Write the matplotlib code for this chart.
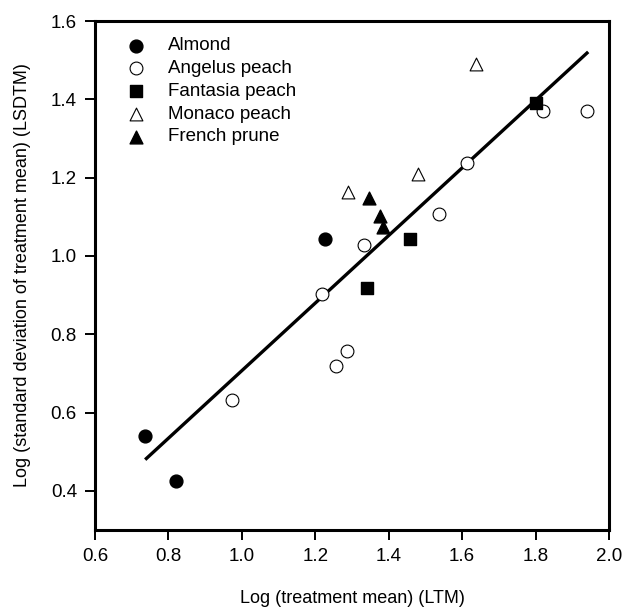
import matplotlib.pyplot as plt
import numpy as np

plt.rcParams["font.family"] = ["Liberation Sans", "DejaVu Sans"]

# log(treatment mean), log(sd of treatment mean) per cultivar
almond_x = [0.736, 0.820, 1.226]
almond_y = [0.540, 0.426, 1.042]
angelus_x = [0.973, 1.218, 1.256, 1.286, 1.332, 1.536, 1.612, 1.819, 1.939]
angelus_y = [0.632, 0.902, 0.718, 0.757, 1.027, 1.108, 1.238, 1.371, 1.371]
fantasia_x = [1.340, 1.457, 1.800]
fantasia_y = [0.917, 1.042, 1.391]
monaco_x = [1.288, 1.479, 1.639]
monaco_y = [1.164, 1.208, 1.490]
prune_x = [1.346, 1.376, 1.384]
prune_y = [1.149, 1.101, 1.075]

# regression line LSDTM = a + b * LTM
fit_slope = 0.863
fit_intercept = -0.156
fit_range = [0.74, 1.94]

fig = plt.figure(figsize=(6.32, 6.09), dpi=100)
ax = fig.add_axes([0.1503, 0.1297, 0.8133, 0.8358])

xs = np.array(fit_range)
ax.plot(xs, fit_intercept + fit_slope * xs, color="black", lw=2.4, zorder=1)

ms = 85
ax.scatter(almond_x, almond_y, s=ms, marker="o", color="black", label="Almond", zorder=3)
ax.scatter(angelus_x, angelus_y, s=ms, marker="o", facecolor="white",
           edgecolor="black", linewidth=0.8, label="Angelus peach", zorder=3)
ax.scatter(fantasia_x, fantasia_y, s=70, marker="s", color="black",
           label="Fantasia peach", zorder=3)
ax.scatter(monaco_x, monaco_y, s=ms, marker="^", facecolor="white",
           edgecolor="black", linewidth=0.8, label="Monaco peach", zorder=3)
ax.scatter(prune_x, prune_y, s=ms, marker="^", color="black",
           label="French prune", zorder=3)

ax.set_xlim(0.6, 2.0)
ax.set_ylim(0.3, 1.6)
ax.set_xticks(np.arange(0.6, 2.01, 0.2))
ax.set_yticks(np.arange(0.4, 1.61, 0.2))
ax.xaxis.set_major_formatter(plt.FormatStrFormatter("%.1f"))
ax.yaxis.set_major_formatter(plt.FormatStrFormatter("%.1f"))
ax.tick_params(direction="out", length=7, width=1.4, labelsize=13.5, pad=6)
for sp in ax.spines.values():
    sp.set_linewidth(2.2)

ax.set_xlabel("Log (treatment mean) (LTM)", fontsize=13, labelpad=18)
ax.set_ylabel("Log (standard deviation of treatment mean) (LSDTM)",
              fontsize=13, labelpad=14)

ax.legend(loc="upper left", bbox_to_anchor=(0.022, 0.99), frameon=False,
          fontsize=13.5, handletextpad=0.7, labelspacing=0.3,
          borderaxespad=0.2)

fig.savefig("out.png", dpi=100)
